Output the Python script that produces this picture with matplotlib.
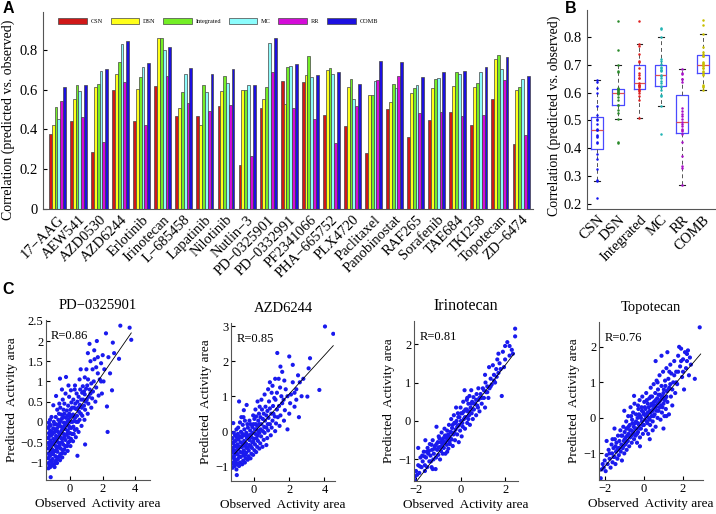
import numpy as np
import matplotlib
matplotlib.use('Agg')
import matplotlib.pyplot as plt

plt.rcParams['font.family'] = ['Liberation Serif', 'DejaVu Serif']

# ---- panel A / B data: correlation per drug and method
drugs = ['17−AAG', 'AEW541', 'AZD0530', 'AZD6244', 'Erlotinib', 'Irinotecan',
         'L−685458', 'Lapatinib', 'Nilotinib', 'Nutlin−3', 'PD−0325901',
         'PD−0332991', 'PF2341066', 'PHA−665752', 'PLX4720', 'Paclitaxel',
         'Panobinostat', 'RAF265', 'Sorafenib', 'TAE684', 'TKI258', 'Topotecan',
         'ZD−6474']
methods = ['CSN', 'DSN', 'Integrated', 'MC', 'RR', 'COMB']

csn = [0.379, 0.441, 0.285, 0.597, 0.443, 0.616, 0.466, 0.466, 0.518, 0.221,
       0.507, 0.644, 0.640, 0.470, 0.418, 0.282, 0.500, 0.362, 0.448, 0.488,
       0.423, 0.552, 0.327]
dsn = [0.420, 0.554, 0.611, 0.676, 0.602, 0.857, 0.507, 0.421, 0.594, 0.600,
       0.555, 0.527, 0.673, 0.700, 0.612, 0.572, 0.537, 0.584, 0.607, 0.616,
       0.612, 0.753, 0.600]
integrated = [0.510, 0.621, 0.628, 0.738, 0.663, 0.859, 0.589, 0.624, 0.669,
              0.600, 0.612, 0.713, 0.767, 0.710, 0.653, 0.572, 0.626, 0.607,
              0.651, 0.688, 0.633, 0.773, 0.611]
mc = [0.451, 0.591, 0.693, 0.830, 0.715, 0.800, 0.680, 0.589, 0.634, 0.624,
      0.834, 0.720, 0.663, 0.678, 0.552, 0.643, 0.609, 0.622, 0.658, 0.680,
      0.690, 0.703, 0.653]
rr = [0.544, 0.461, 0.336, 0.638, 0.421, 0.666, 0.535, 0.493, 0.523, 0.267,
      0.686, 0.507, 0.450, 0.330, 0.517, 0.648, 0.669, 0.480, 0.487, 0.466,
      0.471, 0.648, 0.371]
comb = [0.611, 0.622, 0.701, 0.844, 0.732, 0.812, 0.706, 0.676, 0.703, 0.624,
        0.860, 0.730, 0.673, 0.688, 0.628, 0.745, 0.738, 0.663, 0.688, 0.695,
        0.711, 0.763, 0.666]

bar_colors = ['#d01818', '#ffff1a', '#74ee26', '#8cfcfc', '#d40cd8', '#1c10e0']
dot_colors = ['#1414f0', '#2a8a2a', '#e02020', '#22b4b4', '#a810c8', '#c8c000']

# ---- panel C data: observed vs predicted activity area
pd0325901_pts = [
    (-1.33, -1.15), (-1.32, -1.02), (-1.34, -0.9), (-1.31, -0.78), (-1.33, -0.66), (-1.32, -0.52),
    (-1.34, -0.4), (-1.3, -0.28), (-1.33, -0.15), (-1.31, -0.02), (-1.22, -1.12), (-1.2, -0.96),
    (-1.24, -0.84), (-1.18, -0.72), (-1.22, -0.6), (-1.2, -0.46), (-1.17, -0.34), (-1.22, -0.22),
    (-1.19, -0.08), (-1.23, 0.05), (-1.1, -1.08), (-1.08, -0.92), (-1.05, -0.8), (-1.1, -0.68),
    (-1.06, -0.55), (-1.02, -0.42), (-1.08, -0.3), (-1.04, -0.16), (-1.0, 0.0), (-1.03, 0.41),
    (-0.95, -1.12), (-0.92, -0.98), (-0.9, -0.85), (-0.94, -0.72), (-0.88, -0.6), (-0.92, -0.47),
    (-0.86, -0.35), (-0.9, -0.2), (-0.85, -0.06), (-0.88, 0.12), (-0.86, 0.64), (-0.8, -1.02),
    (-0.76, -0.88), (-0.78, -0.74), (-0.72, -0.62), (-0.76, -0.5), (-0.7, -0.38), (-0.74, -0.25),
    (-0.7, -0.1), (-0.72, 0.05), (-0.68, 0.2), (-0.62, -0.95), (-0.6, -0.8), (-0.58, -0.66),
    (-0.62, -0.52), (-0.56, -0.4), (-0.6, -0.27), (-0.55, -0.12), (-0.58, 0.02), (-0.54, 0.18),
    (-0.62, 1.07), (-0.6, 0.35), (-0.48, -0.88), (-0.45, -0.7), (-0.42, -0.56), (-0.46, -0.42),
    (-0.4, -0.3), (-0.44, -0.16), (-0.38, -0.02), (-0.42, 0.12), (-0.4, 0.3), (-0.45, 0.55),
    (-0.32, -0.78), (-0.3, -0.6), (-0.28, -0.45), (-0.25, -0.32), (-0.3, -0.18), (-0.22, -0.05),
    (-0.26, 0.1), (-0.25, 1.11), (-0.2, 0.28), (-0.28, 0.7), (-0.15, -0.72), (-0.12, -0.52),
    (-0.1, -0.38), (-0.14, -0.22), (-0.08, -0.1), (-0.1, 0.05), (-0.05, 0.2), (-0.12, 0.4),
    (-0.06, 0.62), (0.02, -0.6), (0.05, -0.42), (0.0, -0.28), (0.08, -0.15), (0.04, 0.0),
    (0.1, 0.15), (0.02, 0.3), (0.08, 0.48), (0.05, 0.78), (0.18, -0.48), (0.22, -0.3),
    (0.2, -0.12), (0.25, 0.02), (0.18, 0.18), (0.24, 0.35), (0.2, 0.55), (0.28, 0.8),
    (0.35, -0.38), (0.4, -0.18), (0.38, 0.0), (0.42, 0.15), (0.36, 0.32), (0.45, 0.5),
    (0.4, 0.7), (0.45, -0.84), (0.52, -0.25), (0.58, 0.05), (0.55, 0.25), (0.6, 0.42),
    (0.52, 0.62), (0.62, 0.8), (0.58, 1.05), (0.7, -0.1), (0.75, 0.15), (0.72, 0.35),
    (0.8, 0.55), (0.74, 0.72), (0.78, 0.88), (0.92, -0.56), (0.88, 0.05), (0.92, 0.3),
    (0.95, 0.5), (0.9, 0.68), (0.98, 0.82), (1.0, 1.3), (1.09, 1.7), (1.08, 0.2),
    (1.12, 0.45), (1.15, 0.62), (1.2, 0.8), (1.1, 1.05), (1.19, 1.93), (1.25, 1.5),
    (1.3, 0.35), (1.35, 0.58), (1.4, 0.75), (1.45, 1.0), (1.48, 1.77), (1.38, 1.3),
    (1.55, 0.5), (1.6, 0.85), (1.64, 2.0), (1.7, 1.2), (1.75, 0.65), (1.82, 1.05),
    (1.9, 1.45), (1.95, 0.7), (2.05, 1.0), (2.1, 1.3), (2.2, 2.19), (2.26, 0.38),
    (2.3, -0.25), (2.35, 1.6), (2.45, 1.2), (2.57, 0.78), (2.62, 1.96), (2.7, 1.7),
    (3.0, 1.56), (3.08, 2.38), (3.65, 2.33), (3.75, 2.03), (-1.19, -1.37), (2.0, 1.65),
    (1.7, 1.6)]
pd0325901_more = [
    (-1.27, -1.08), (-1.26, -0.84), (-1.28, -0.58), (-1.25, -0.34), (-1.27, -0.1), (-1.14, -1.0),
    (-1.15, -0.78), (-1.13, -0.52), (-1.12, -0.25), (-1.14, 0.12), (-0.98, -1.05), (-0.99, -0.74),
    (-0.97, -0.5), (-0.97, -0.26), (-0.96, -0.06), (-0.83, -0.94), (-0.82, -0.68), (-0.81, -0.42),
    (-0.8, -0.16), (-0.79, 0.3), (-0.66, -0.86), (-0.65, -0.58), (-0.64, -0.32), (-0.65, -0.04),
    (-0.66, 0.45), (-0.51, -0.78), (-0.5, -0.5), (-0.52, -0.22), (-0.5, 0.08), (-0.35, -0.68),
    (-0.36, -0.38), (-0.34, -0.1), (-0.35, 0.2), (-0.35, 0.45), (-0.18, -0.6), (-0.19, -0.3),
    (-0.18, 0.0), (-0.17, 0.15), (-0.02, -0.48), (-0.03, -0.15), (0.0, 0.12), (0.12, -0.3),
    (0.14, 0.0), (0.12, 0.35), (0.3, -0.2), (0.3, 0.1), (0.32, 0.45), (0.48, 0.0),
    (0.5, 0.35), (0.66, 0.2), (0.68, 0.55), (0.85, 0.4), (0.85, 0.75), (1.02, 0.55),
    (1.05, 0.9), (1.25, 0.7), (1.3, 0.95), (0.3, 0.9), (-0.1, 0.9), (-0.5, 0.8),
    (0.65, 1.3), (0.9, 1.1), (1.5, 1.55), (1.9, 1.0), (1.6, 1.35)]

azd6244_pts = [
    (-1.22, -1.05), (-1.2, -0.9), (-1.23, -0.75), (-1.18, -0.62), (-1.21, -0.48), (-1.19, -0.34),
    (-1.22, -0.2), (-1.18, 0.23), (-1.1, -1.0), (-1.08, -0.85), (-1.12, -0.7), (-1.06, -0.56),
    (-1.1, -0.42), (-1.05, -0.28), (-1.08, -0.12), (-0.98, -1.26), (-0.95, -0.95), (-0.92, -0.8),
    (-0.96, -0.66), (-0.9, -0.52), (-0.94, -0.38), (-0.88, -0.24), (-0.92, -0.08), (-0.85, 0.85),
    (-0.9, 0.1), (-0.8, -0.9), (-0.76, -0.74), (-0.78, -0.6), (-0.72, -0.46), (-0.76, -0.32),
    (-0.7, -0.18), (-0.74, -0.02), (-0.72, 0.4), (-0.62, -0.85), (-0.6, -0.7), (-0.58, -0.55),
    (-0.62, -0.42), (-0.56, -0.28), (-0.6, -0.12), (-0.55, 0.05), (-0.58, 0.6), (-0.48, -0.78),
    (-0.45, -0.62), (-0.42, -0.48), (-0.46, -0.35), (-0.4, -0.2), (-0.44, -0.05), (-0.38, 0.2),
    (-0.42, 0.75), (-0.32, -0.72), (-0.3, -0.56), (-0.28, -0.4), (-0.25, -0.26), (-0.3, -0.12),
    (-0.22, 0.02), (-0.26, 0.3), (-0.15, -0.65), (-0.12, -0.48), (-0.1, -0.32), (-0.14, -0.18),
    (-0.08, -0.05), (-0.1, 0.12), (-0.05, 0.45), (0.02, -0.55), (0.05, -0.38), (0.0, -0.22),
    (0.08, -0.08), (0.04, 0.05), (0.1, 0.2), (0.02, 0.35), (0.08, 0.62), (0.18, -0.45),
    (0.22, -0.28), (0.2, -0.12), (0.25, 0.0), (0.18, 0.15), (0.24, 0.3), (0.28, 0.5),
    (0.35, -0.35), (0.4, -0.15), (0.38, 0.05), (0.42, 0.2), (0.36, 0.4), (0.45, 0.62),
    (0.42, 0.9), (0.55, -0.25), (0.6, -0.05), (0.58, 0.12), (0.62, 0.3), (0.55, 0.5),
    (0.65, 0.7), (0.6, 1.05), (0.75, -0.2), (0.8, 0.02), (0.78, 0.2), (0.82, 0.38),
    (0.76, 0.58), (0.85, 0.85), (0.8, 1.2), (0.95, -0.12), (1.0, 0.1), (1.05, 0.3),
    (0.98, 0.5), (1.08, 0.72), (1.0, 1.1), (1.05, 1.3), (1.2, 0.0), (1.25, 0.22),
    (1.18, 0.42), (1.3, 0.62), (1.22, 0.9), (1.32, 2.24), (1.3, 1.1), (1.2, 1.5),
    (1.45, 0.15), (1.5, 0.45), (1.42, 0.72), (1.55, 1.0), (1.48, 1.25), (1.5, 1.85),
    (1.7, 0.3), (1.75, 0.6), (1.68, 0.9), (1.8, 1.2), (1.72, 1.45), (2.0, 2.14),
    (1.9, 0.05), (2.0, 0.5), (2.05, 0.8), (2.1, 1.05), (2.2, 1.4), (2.3, 0.7),
    (2.4, 1.2), (2.5, 1.6), (2.55, 0.4), (2.7, 1.0), (2.8, 1.5), (3.03, 0.99),
    (3.18, 2.09), (3.1, 1.8), (3.71, 1.18), (4.03, 3.0), (4.5, 2.79), (2.2, 1.9),
    (1.6, 1.7)]
azd6244_more = [
    (-1.15, -0.95), (-1.14, -0.78), (-1.16, -0.55), (-1.13, -0.3), (-1.15, -0.05), (-1.0, -1.1),
    (-1.02, -0.9), (-1.01, -0.62), (-0.99, -0.45), (-0.98, -0.18), (-1.0, 0.05), (-0.85, -1.0),
    (-0.84, -0.72), (-0.83, -0.44), (-0.82, -0.15), (-0.8, 0.25), (-0.67, -0.95), (-0.66, -0.62),
    (-0.65, -0.36), (-0.66, -0.08), (-0.64, 0.18), (-0.52, -0.9), (-0.5, -0.68), (-0.51, -0.42),
    (-0.5, -0.12), (-0.52, 0.3), (-0.36, -0.82), (-0.35, -0.48), (-0.34, -0.2), (-0.35, 0.1),
    (-0.2, -0.78), (-0.19, -0.42), (-0.18, -0.1), (-0.2, 0.2), (-0.05, -0.68), (-0.04, -0.3),
    (-0.03, 0.2), (0.12, -0.6), (0.14, -0.2), (0.13, 0.05), (0.12, 0.42), (0.3, -0.5),
    (0.3, -0.05), (0.3, 0.2), (0.32, 0.7), (0.48, -0.45), (0.5, 0.0), (0.5, 0.35),
    (0.7, -0.4), (0.7, 0.1), (0.7, 0.45), (0.9, 0.2), (0.9, 0.65), (1.1, 0.5),
    (1.15, 0.95), (1.35, 0.4), (1.6, 0.8), (1.9, 1.0), (2.3, 1.1), (-0.6, 0.4),
    (0.2, 0.85), (0.9, 1.4), (1.4, 1.5), (2.6, 1.4), (2.4, 0.9)]

irinotecan_pts = [
    (-2.05, -1.45), (-2.0, -1.3), (-1.9, -1.15), (-1.85, -1.35), (-1.8, -0.95), (-1.75, -1.2),
    (-1.7, -1.05), (-1.65, -0.8), (-1.6, -1.15), (-1.55, -0.95), (-1.5, -1.2), (-1.48, -0.7),
    (-1.45, -0.85), (-1.4, -1.05), (-1.38, -0.6), (-1.35, -0.9), (-1.3, -1.2), (-1.28, -0.75),
    (-1.25, -0.5), (-1.22, -1.0), (-1.2, -0.85), (-1.15, -0.65), (-1.12, -1.25), (-1.1, -0.95),
    (-1.08, -0.15), (-1.05, -0.75), (-1.02, -0.55), (-1.0, -0.88), (-0.98, -0.4), (-0.95, -0.68),
    (-0.92, -1.0), (-0.9, -0.55), (-0.88, -0.78), (-0.85, -0.3), (-0.82, -0.62), (-0.8, -0.85),
    (-0.78, -0.45), (-0.75, -0.7), (-0.72, -0.2), (-0.7, -0.55), (-0.68, -0.85), (-0.65, -0.38),
    (-0.62, -0.62), (-0.6, -0.25), (-0.58, -0.5), (-0.55, -0.72), (-0.52, -0.1), (-0.5, -0.4),
    (-0.48, -0.6), (-0.45, -0.28), (-0.42, 0.05), (-0.4, -0.48), (-0.38, -0.18), (-0.35, -0.65),
    (-0.32, -0.35), (-0.3, 0.15), (-0.28, -0.05), (-0.25, -0.5), (-0.22, -0.22), (-0.2, 0.35),
    (-0.18, 0.0), (-0.15, -0.35), (-0.12, 0.2), (-0.1, -0.12), (-0.08, -0.55), (-0.05, 0.1),
    (-0.02, -0.25), (0.0, 0.35), (0.02, 0.0), (0.05, -0.4), (0.08, 0.2), (0.1, -0.15),
    (0.12, 0.5), (0.15, 0.05), (0.18, 0.8), (0.2, -0.2), (0.22, 0.3), (0.25, 0.1),
    (0.28, 0.55), (0.3, -0.05), (0.32, 0.25), (0.35, 0.45), (0.38, 0.15), (0.4, 0.65),
    (0.42, -0.1), (0.45, 0.35), (0.48, 0.8), (0.5, 0.2), (0.52, 0.5), (0.55, 0.05),
    (0.58, 0.62), (0.6, 0.3), (0.65, 0.45), (0.7, 0.15), (0.72, 0.7), (0.75, 0.4),
    (0.8, 0.55), (0.85, 0.25), (0.9, 0.7), (0.95, 0.45), (1.0, 0.85), (1.05, 0.6),
    (1.1, 0.35), (1.12, 1.0), (1.15, 0.75), (1.2, 0.9), (1.25, 0.6), (1.28, 1.4),
    (1.3, 0.85), (1.35, 1.1), (1.4, 0.95), (1.45, 1.45), (1.5, 1.2), (1.55, 1.0),
    (1.6, 1.35), (1.65, 1.6), (1.7, 1.25), (1.75, 1.5), (1.85, 0.65), (1.9, 1.8),
    (1.95, 1.4), (2.0, 1.95), (2.1, 2.05), (2.2, 1.7), (2.3, 1.85), (2.45, 2.4),
    (2.45, 2.2), (2.35, 1.75), (-2.05, -1.55), (-1.9, -0.7), (-1.58, -0.5)]
irinotecan_more = [
    (-1.95, -1.4), (-1.82, -1.18), (-1.72, -0.9), (-1.62, -0.92), (-1.52, -0.8), (-1.42, -0.78),
    (-1.33, -1.05), (-1.3, -0.62), (-1.18, -0.72), (-1.08, -0.6), (-1.0, -0.7), (-0.95, -0.45),
    (-0.9, -0.68), (-0.82, -0.5), (-0.75, -0.55), (-0.7, -0.38), (-0.62, -0.45), (-0.55, -0.35),
    (-0.5, -0.55), (-0.45, -0.45), (-0.4, -0.3), (-0.35, -0.1), (-0.28, -0.3), (-0.22, -0.05),
    (-0.15, -0.15), (-0.1, 0.1), (-0.05, -0.1), (0.02, 0.2), (0.08, -0.05), (0.15, 0.25),
    (0.2, 0.1), (0.28, 0.3), (0.35, 0.05), (0.4, 0.25), (0.48, 0.45), (0.55, 0.3),
    (0.62, 0.45), (0.7, 0.55), (0.78, 0.35), (0.85, 0.6), (0.95, 0.6), (1.05, 0.8),
    (1.2, 0.75), (1.35, 0.9), (1.5, 1.05), (1.62, 1.15), (1.8, 1.35), (2.0, 1.6),
    (-1.6, -1.3), (-1.25, -1.25), (-0.6, -0.8), (0.3, 0.6), (0.8, 0.85), (1.1, 1.2),
    (1.7, 1.75), (2.2, 1.95)]

topotecan_pts = [
    (-2.2, -1.7), (-2.15, -1.45), (-2.1, -1.3), (-2.0, -1.2), (-1.95, -1.5), (-1.9, -1.05),
    (-1.85, -1.3), (-1.8, -0.9), (-1.75, -1.15), (-1.7, -1.4), (-1.65, -0.75), (-1.62, -1.0),
    (-1.6, -1.25), (-1.55, -0.85), (-1.5, -1.1), (-1.48, -0.6), (-1.45, -1.3), (-1.42, -0.95),
    (-1.4, -0.7), (-1.35, -1.15), (-1.32, -0.5), (-1.3, -0.85), (-1.28, -1.05), (-1.25, -0.65),
    (-1.2, -0.35), (-1.18, -0.95), (-1.15, -0.75), (-1.12, -1.2), (-1.1, -0.5), (-1.08, -0.85),
    (-1.05, -0.25), (-1.02, -0.65), (-1.0, -1.0), (-0.98, -0.4), (-0.95, -0.75), (-0.92, -0.55),
    (-0.9, -0.1), (-0.88, -0.9), (-0.85, -0.3), (-0.82, -0.65), (-0.8, 0.05), (-0.78, -0.45),
    (-0.75, -0.8), (-0.72, -0.2), (-0.7, -0.55), (-0.68, 0.3), (-0.65, -0.35), (-0.62, -0.7),
    (-0.6, -0.05), (-0.58, -0.45), (-0.55, 0.15), (-0.52, -0.25), (-0.5, -0.6), (-0.48, 0.4),
    (-0.45, -0.15), (-0.42, -0.5), (-0.4, 0.1), (-0.38, -0.3), (-0.35, -0.7), (-0.32, 0.0),
    (-0.3, -0.4), (-0.28, 0.25), (-0.25, -0.2), (-0.22, 0.5), (-0.2, -0.55), (-0.18, 0.05),
    (-0.15, -0.3), (-0.12, 0.3), (-0.1, -0.1), (-0.08, 0.6), (-0.05, -0.45), (-0.02, 0.15),
    (0.0, -0.2), (0.02, 0.45), (0.05, -0.05), (0.08, 0.25), (0.1, -0.35), (0.12, 0.7),
    (0.15, 0.1), (0.18, -0.15), (0.2, 0.4), (0.22, -0.45), (0.25, 0.0), (0.28, 0.55),
    (0.3, 0.2), (0.32, -0.2), (0.35, 0.85), (0.38, 0.35), (0.4, 0.05), (0.42, 0.6),
    (0.45, -0.1), (0.48, 0.25), (0.5, 0.95), (0.52, 0.45), (0.55, 0.1), (0.58, 0.7),
    (0.6, -0.25), (0.62, 0.3), (0.65, 1.05), (0.68, 0.55), (0.7, 0.0), (0.72, 0.8),
    (0.75, 0.2), (0.78, 0.45), (0.8, 1.2), (0.82, 0.65), (0.85, -0.05), (0.88, 0.35),
    (0.9, 0.9), (0.92, 0.15), (0.95, 0.6), (0.98, 1.3), (1.0, 0.4), (1.02, 0.8),
    (1.05, 0.05), (1.08, 1.05), (1.1, 0.55), (1.12, 0.25), (1.15, 1.4), (1.18, 0.75),
    (1.2, 0.45), (1.25, 1.1), (1.28, 0.1), (1.3, 0.85), (1.35, 1.5), (1.38, 0.6),
    (1.4, 1.25), (1.45, 0.35), (1.5, 1.0), (1.55, 1.6), (1.6, 0.7), (1.65, 1.3),
    (1.7, 0.95), (1.75, 1.75), (1.8, 2.0), (1.85, 1.45), (1.9, 1.95), (1.95, 1.15),
    (2.0, 1.65), (2.05, 0.8), (2.1, 1.85), (2.15, 1.4), (2.2, 1.6), (2.25, 1.9),
    (2.3, 1.2), (2.35, 1.7), (2.4, 1.5), (2.6, 1.1), (2.85, 2.55), (-0.5, 0.62),
    (-1.0, 0.2), (0.6, 1.6), (0.9, 1.75), (1.0, -0.3), (-1.5, -0.3), (-0.2, -0.8),
    (0.3, -0.6), (1.2, 1.85), (-1.9, -0.65)]
topotecan_more = [
    (-1.6, -0.6), (-1.45, -0.8), (-1.35, -0.9), (-1.25, -0.85), (-1.15, -0.5), (-1.05, -0.8),
    (-0.98, -0.6), (-0.9, -0.7), (-0.85, -0.5), (-0.78, -0.25), (-0.7, -0.35), (-0.62, -0.5),
    (-0.58, -0.15), (-0.52, -0.4), (-0.45, -0.3), (-0.4, -0.1), (-0.35, -0.45), (-0.3, -0.15),
    (-0.25, 0.1), (-0.2, -0.3), (-0.15, 0.0), (-0.1, 0.2), (-0.05, -0.2), (0.0, 0.1),
    (0.05, 0.3), (0.1, 0.05), (0.15, -0.1), (0.2, 0.15), (0.25, 0.3), (0.3, -0.05),
    (0.35, 0.15), (0.4, 0.4), (0.45, 0.2), (0.5, 0.05), (0.55, 0.35), (0.6, 0.5),
    (0.65, 0.2), (0.7, 0.4), (0.75, 0.65), (0.8, 0.3), (0.85, 0.5), (0.9, 0.55),
    (0.95, 0.3), (1.0, 0.7), (1.05, 0.5), (1.1, 0.9), (1.15, 0.6), (1.25, 0.8),
    (1.35, 0.95), (1.45, 0.8), (1.55, 1.2), (1.65, 1.0), (1.75, 1.3), (1.9, 1.6),
    (2.0, 1.3), (2.2, 1.8), (-2.05, -1.4), (-1.75, -1.0), (-1.55, -1.1), (0.35, 0.6),
    (0.15, 0.5), (-0.3, 0.35), (0.7, 1.0), (1.3, 1.3), (-0.65, 0.05), (-0.9, -0.3),
    (0.45, -0.35), (1.15, 0.05)]

# fitted line end points and R values
scatter_titles = ['PD−0325901', 'AZD6244', 'Irinotecan', 'Topotecan']
title_sizes = [10.5, 10.5, 11.5, 10.5]
r_labels = ['R=0.86', 'R=0.85', 'R=0.81', 'R=0.76']
fit_x = [[-1.3, 3.75], [-1.1, 4.5], [-1.95, 2.4], [-2.2, 2.9]]
fit_y = [[-0.75, 2.2], [-0.65, 2.45], [-1.55, 1.75], [-1.5, 1.8]]

fig = plt.figure(figsize=(7.16, 5.14), dpi=100)

# ---------------- A: grouped bars
axA = fig.add_axes([0.0601, 0.5934, 0.6844, 0.3833])
series = [csn, dsn, integrated, mc, rr, comb]
x = np.arange(len(drugs))
w = 0.134
for k, vals in enumerate(series):
    axA.bar(x + (k - 2.5) * w, vals, width=w, color=bar_colors[k],
            edgecolor='#444444', linewidth=0.5, label=methods[k])
axA.set_xlim(-0.68, 22.57)
axA.set_ylim(0, 0.99)
axA.set_yticks([0, 0.2, 0.4, 0.6, 0.8])
axA.set_yticklabels(['0', '0.2', '0.4', '0.6', '0.8'])
axA.set_xticks(x)
axA.set_xticklabels(drugs, rotation=45, ha='right', rotation_mode='anchor')
axA.tick_params(axis='x', length=0, pad=3, labelsize=10.5)
axA.tick_params(axis='y', direction='in', length=3, labelsize=10.5)
axA.set_ylabel('Correlation (predicted vs. observed)', fontsize=10)
axA.yaxis.set_label_coords(-0.058, 0.455)
for s in ['top', 'right']:
    axA.spines[s].set_visible(False)
axA.spines['left'].set_color('#555555')
axA.spines['bottom'].set_color('#555555')
axA.legend(ncol=6, loc='upper left', bbox_to_anchor=(0.02, 1.0), fontsize=4.5,
           frameon=False, handlelength=4.6, handleheight=1.2, columnspacing=1.2,
           handletextpad=0.6)

# ---------------- B: box plots
axB = fig.add_axes([0.8198, 0.5934, 0.1788, 0.3872])
pos = np.arange(1, 7)
axB.boxplot(series, positions=pos, widths=0.55, showfliers=False,
            boxprops=dict(color='#4a4aff', linewidth=0.9),
            medianprops=dict(color='#e05050', linewidth=0.9),
            whiskerprops=dict(color='#555555', linestyle=(0, (4, 3)), linewidth=0.7),
            capprops=dict(color='#222222', linewidth=0.8))
for k, vals in enumerate(series):
    axB.plot(np.full(len(vals), pos[k]), vals, 'o', ms=1.8, mew=0,
             color=dot_colors[k], zorder=3)
axB.set_xlim(0.52, 6.57)
axB.set_ylim(0.182, 0.897)
axB.set_yticks([0.2, 0.3, 0.4, 0.5, 0.6, 0.7, 0.8])
axB.set_xticks(pos)
axB.set_xticklabels(methods, rotation=45, ha='right', rotation_mode='anchor')
axB.tick_params(axis='x', length=0, pad=3, labelsize=10.5)
axB.tick_params(axis='y', direction='in', length=3, labelsize=10.5)
axB.set_ylabel('Correlation (predicted vs. observed)', fontsize=10)
axB.yaxis.set_label_coords(-0.2, 0.47)
for s in ['top', 'right']:
    axB.spines[s].set_visible(False)
axB.spines['left'].set_color('#555555')
axB.spines['bottom'].set_color('#555555')

# ---------------- C: scatter plots
c_rects = [[0.0642, 0.0661, 0.1453, 0.3113], [0.3226, 0.0642, 0.1453, 0.3074],
           [0.5782, 0.0642, 0.1453, 0.3113], [0.8366, 0.0661, 0.1453, 0.3074]]
c_xlims = [(-1.48, 4.9), (-1.31, 4.6), (-2.09, 2.58), (-2.29, 3.02)]
c_ylims = [(-1.44, 2.52), (-1.43, 3.1), (-1.56, 2.6), (-1.75, 2.7)]
c_xticks = [[0, 2, 4], [0, 2, 4], [-2, 0, 2], [-2, 0, 2]]
c_yticks = [[-1, -0.5, 0, 0.5, 1, 1.5, 2, 2.5], [-1, 0, 1, 2, 3], [-1, 0, 1, 2], [-1, 0, 1, 2]]
all_pts = [pd0325901_pts + pd0325901_more, azd6244_pts + azd6244_more,
           irinotecan_pts + irinotecan_more, topotecan_pts + topotecan_more]

for i in range(4):
    ax = fig.add_axes(c_rects[i])
    px = [p[0] for p in all_pts[i]]
    py = [p[1] for p in all_pts[i]]
    ax.scatter(px, py, s=9, color='#1a1aee', edgecolors='none', zorder=2)
    ax.plot(fit_x[i], fit_y[i], color='black', linewidth=0.6, zorder=3)
    ax.set_xlim(*c_xlims[i])
    ax.set_ylim(*c_ylims[i])
    ax.set_xticks(c_xticks[i])
    ax.set_yticks(c_yticks[i])
    ax.set_yticklabels([('%g' % v).replace('-', '−') for v in c_yticks[i]])
    ax.tick_params(direction='in', length=3, labelsize=9, pad=2)
    for s in ['top', 'right']:
        ax.spines[s].set_visible(False)
    ax.spines['left'].set_color('#555555')
    ax.spines['bottom'].set_color('#555555')
    ax.set_title(scatter_titles[i], fontsize=title_sizes[i], pad=8)
    ax.set_xlabel('Observed  Activity area', fontsize=9.5, labelpad=2)
    ax.set_ylabel('Predicted  Activity area', fontsize=9.5, labelpad=2)
    ax.text(0.05, 0.9, r_labels[i], transform=ax.transAxes, fontsize=9,
            ha='left', va='center')

# panel letters
for lab, xx, yy in [('A', 0.004, 0.999), ('B', 0.789, 0.999), ('C', 0.004, 0.452)]:
    fig.text(xx, yy, lab, fontsize=11.5, fontweight='bold', ha='left', va='top',
             family='Liberation Sans')

fig.savefig('out.png', dpi=100)
